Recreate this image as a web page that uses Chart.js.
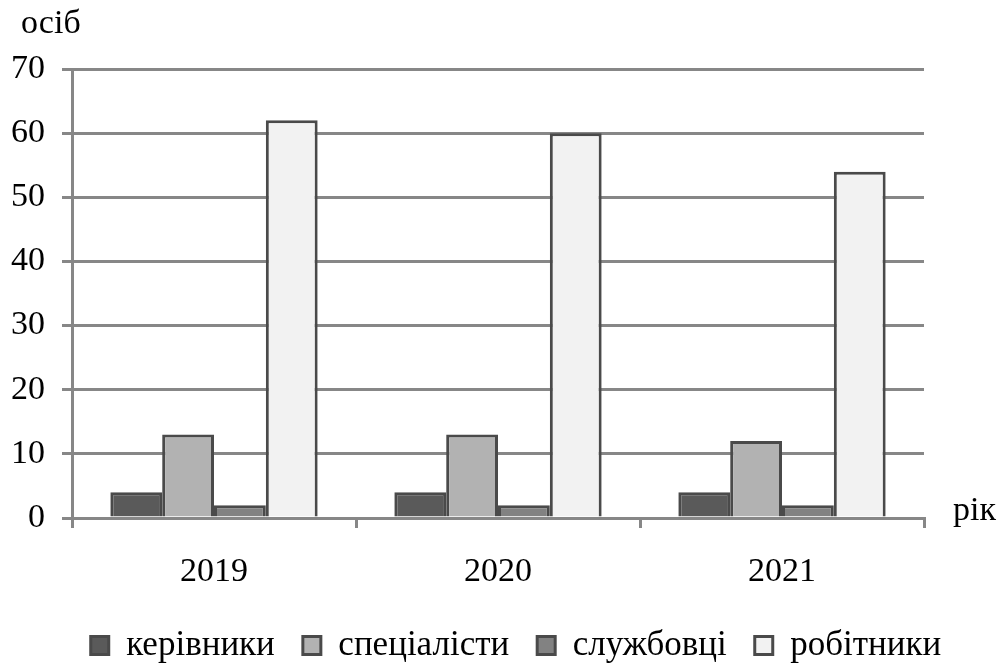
<!DOCTYPE html>
<html><head><meta charset="utf-8">
<script src="https://cdn.jsdelivr.net/npm/chart.js@4"></script>
<style>html,body{margin:0;padding:0;background:#fff}#w{width:1000px;height:666px}
#pre{font-family:"Liberation Serif";font-size:34px;position:absolute;left:-9999px}</style>
</head><body><div id="pre">осіб рік 2019 керівники</div><div id="w"><canvas id="c"></canvas></div>
<script>
const categories = ['2019', '2020', '2021'];
const seriesNames = ['керівники', 'спеціалісти', 'службовці', 'робітники'];
const kerivnyky = [4, 4, 4];
const spetsialisty = [13, 13, 12];
const sluzhbovtsi = [2, 2, 2];
const robitnyky = [62, 60, 54];
const yTicks = [0, 10, 20, 30, 40, 50, 60, 70];
const yAxisTitle = 'осіб';
const xAxisTitle = 'рік';

const fills = ['#5a5a5a', '#b2b2b2', '#828282', '#f2f2f2'];
const border = '#4a4a4a';
const gridCol = '#878787';
const FONT = '"Liberation Serif", serif';
const FS = 34;
const LFS = 35;

const axisTitles = {
  id: 'axisTitles',
  afterDraw(chart) {
    const {ctx} = chart;
    ctx.save();
    ctx.fillStyle = '#000';
    ctx.font = FS + 'px ' + FONT;
    ctx.textBaseline = 'alphabetic';
    ctx.textAlign = 'left';
    ctx.fillText(yAxisTitle, 21, 33);
    ctx.fillText(xAxisTitle, 953, 520);
    ctx.restore();
  }
};

const mk = (i, data) => ({
  label: seriesNames[i], data,
  backgroundColor: fills[i], borderColor: border, borderWidth: 3,
  borderSkipped: 'bottom', barPercentage: 1.0, categoryPercentage: 0.73
});

function draw() {
  new Chart(document.getElementById('c'), {
    type: 'bar',
    data: {
      labels: categories,
      datasets: [mk(0, kerivnyky), mk(1, spetsialisty), mk(2, sluzhbovtsi), mk(3, robitnyky)]
    },
    options: {
      responsive: true, maintainAspectRatio: false, animation: false,
      layout: { padding: { top: 69, right: -32, left: 0, bottom: -7 } },
      plugins: {
        tooltip: { enabled: false },
        legend: {
          position: 'bottom',
          labels: {
            color: '#000', font: { family: FONT, size: LFS },
            boxWidth: 18, boxHeight: 18, padding: 28
          }
        }
      },
      scales: {
        x: {
          afterFit(axis) { axis.height = 82; },
          grid: { display: true, drawOnChartArea: false, offset: true, color: gridCol, lineWidth: 3, tickLength: 10 },
          border: { color: gridCol, width: 3 },
          ticks: { color: '#000', font: { family: FONT, size: FS }, padding: 24 }
        },
        y: {
          min: 0, max: 70,
          afterFit(axis) { axis.width = 72; },
          afterBuildTicks(axis) { axis.ticks = yTicks.map(v => ({ value: v })); },
          grid: { color: gridCol, lineWidth: 3, tickLength: 10 },
          border: { color: gridCol, width: 3 },
          ticks: { color: '#000', font: { family: FONT, size: FS }, padding: 17 }
        },
        yR: {
          position: 'right', min: 0, max: 70,
          afterFit(axis) { axis.width = 108; },
          grid: { display: false, drawOnChartArea: false },
          border: { display: false },
          ticks: { display: false }
        }
      }
    },
    plugins: [axisTitles]
  });
}
if (document.fonts && document.fonts.load) {
  document.fonts.load(FS + 'px "Liberation Serif"', 'осіб2019').then(draw, draw);
} else { draw(); }
</script></body></html>
